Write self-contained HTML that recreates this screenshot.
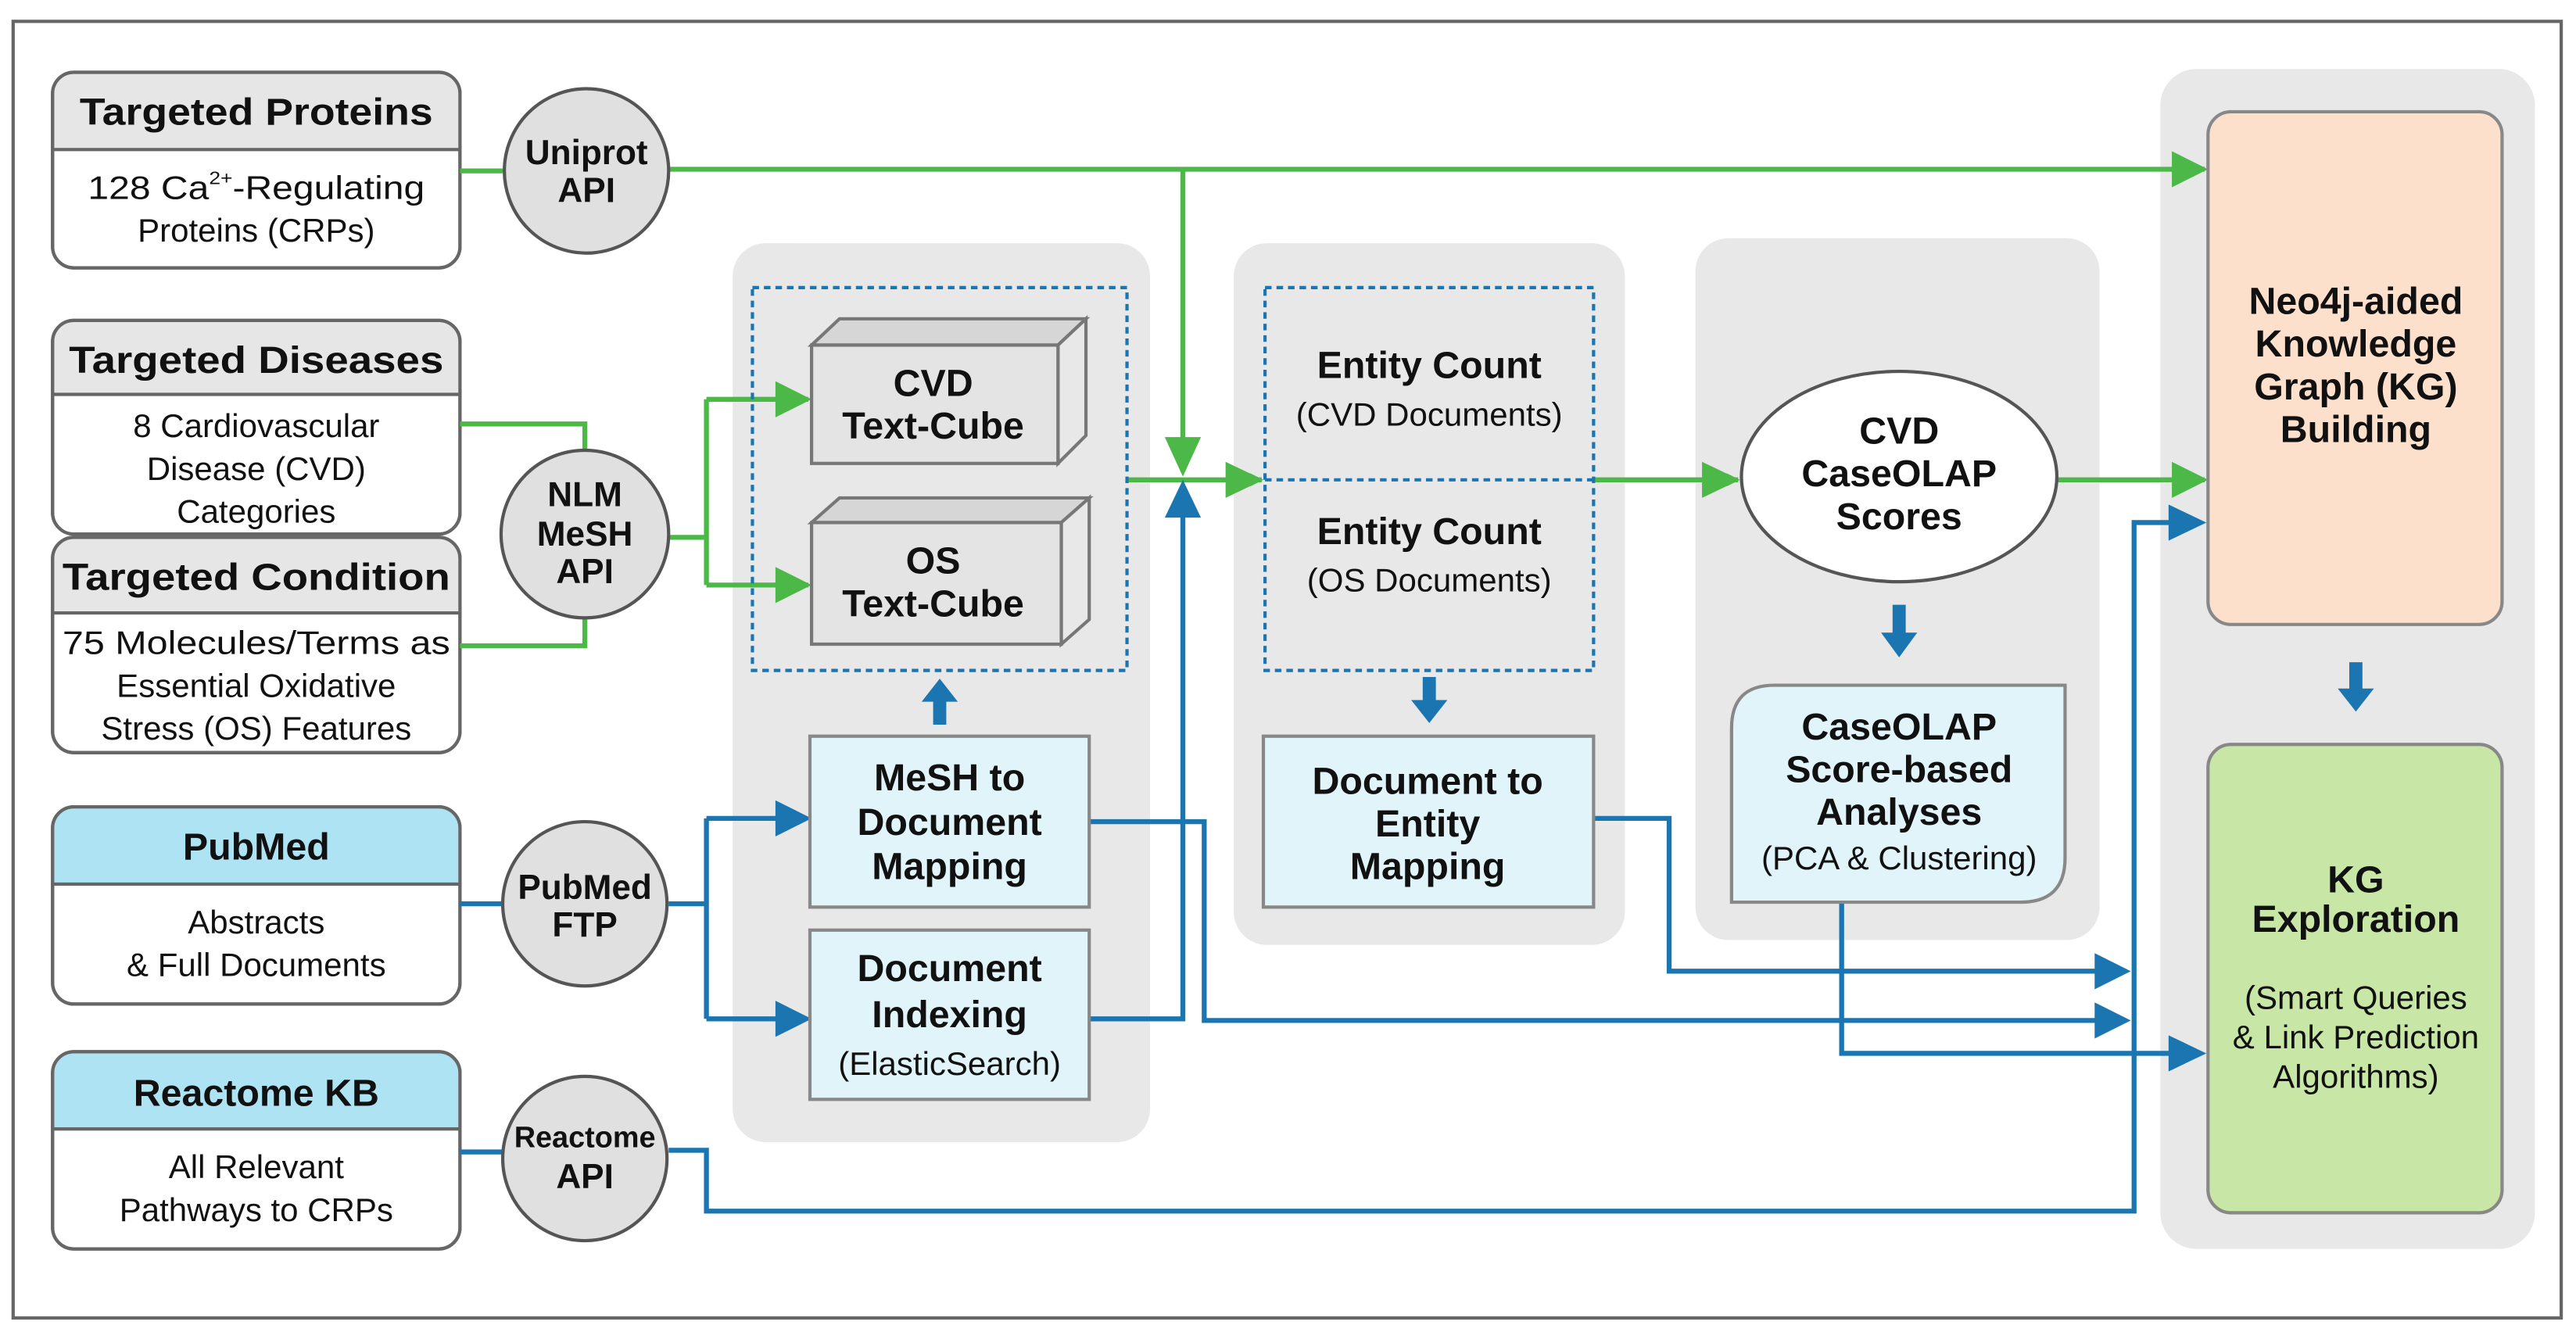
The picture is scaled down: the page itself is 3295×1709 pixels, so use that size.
<!DOCTYPE html>
<html><head><meta charset="utf-8"><style>
html,body{margin:0;padding:0;background:#fff;}
svg{display:block;}
text{font-family:"Liberation Sans",sans-serif;fill:#111;}
.b{font-weight:bold;}
</style></head><body>
<svg width="3295" height="1709" viewBox="0 0 1568 813" preserveAspectRatio="none" xmlns="http://www.w3.org/2000/svg">
<defs>
<marker id="ga" markerWidth="8" markerHeight="8" refX="7" refY="4" orient="auto" markerUnits="userSpaceOnUse" viewBox="0 0 8 8"><path d="M0,0 L8,4 L0,8Z" fill="#4cb848"/></marker>
<marker id="ba" markerWidth="8" markerHeight="8" refX="7" refY="4" orient="auto" markerUnits="userSpaceOnUse" viewBox="0 0 8 8"><path d="M0,0 L8,4 L0,8Z" fill="#1a75b0"/></marker>
</defs>
<rect x="0" y="0" width="1568" height="813" fill="#fff"/>
<rect x="8" y="13" width="1551" height="789" fill="none" stroke="#666" stroke-width="2"/>

<!-- group panels -->
<rect x="446" y="148" width="254" height="547" rx="20" fill="#e8e8e8"/>
<rect x="751" y="148" width="238" height="427" rx="20" fill="#e8e8e8"/>
<rect x="1032" y="145" width="246" height="427" rx="20" fill="#e8e8e8"/>
<rect x="1315" y="42" width="228" height="718" rx="22" fill="#e8e8e8"/>

<!-- left source boxes -->
<g stroke="#666" stroke-width="2">
<rect x="32" y="44" width="248" height="119" rx="13" fill="#fff"/>
<path d="M33,91 V57 Q33,45 45,45 H267 Q279,45 279,57 V91Z" fill="#e6e6e6" stroke="none"/>
<rect x="32" y="44" width="248" height="119" rx="13" fill="none"/>
<line x1="32" y1="91" x2="280" y2="91"/>

<rect x="32" y="195" width="248" height="130" rx="13" fill="#fff"/>
<path d="M33,240 V208 Q33,196 45,196 H267 Q279,196 279,208 V240Z" fill="#e6e6e6" stroke="none"/>
<rect x="32" y="195" width="248" height="130" rx="13" fill="none"/>
<line x1="32" y1="240" x2="280" y2="240"/>

<rect x="32" y="327" width="248" height="131" rx="13" fill="#fff"/>
<path d="M33,373 V340 Q33,328 45,328 H267 Q279,328 279,340 V373Z" fill="#e6e6e6" stroke="none"/>
<rect x="32" y="327" width="248" height="131" rx="13" fill="none"/>
<line x1="32" y1="373" x2="280" y2="373"/>

<rect x="32" y="491" width="248" height="120" rx="13" fill="#fff"/>
<path d="M33,538 V504 Q33,492 45,492 H267 Q279,492 279,504 V538Z" fill="#ade3f2" stroke="none"/>
<rect x="32" y="491" width="248" height="120" rx="13" fill="none"/>
<line x1="32" y1="538" x2="280" y2="538"/>

<rect x="32" y="640" width="248" height="120" rx="13" fill="#fff"/>
<path d="M33,687 V653 Q33,641 45,641 H267 Q279,641 279,653 V687Z" fill="#ade3f2" stroke="none"/>
<rect x="32" y="640" width="248" height="120" rx="13" fill="none"/>
<line x1="32" y1="687" x2="280" y2="687"/>
</g>
<g class="b" font-size="23" text-anchor="middle">
<text x="156" y="76" class="b" textLength="215" lengthAdjust="spacingAndGlyphs">Targeted Proteins</text>
<text x="156" y="227" class="b" textLength="228" lengthAdjust="spacingAndGlyphs">Targeted Diseases</text>
<text x="156" y="359" class="b" textLength="236" lengthAdjust="spacingAndGlyphs">Targeted Condition</text>
<text x="156" y="523" class="b">PubMed</text>
<text x="156" y="673" class="b">Reactome KB</text>
</g>
<g font-size="20" text-anchor="middle">
<text x="156" y="121" textLength="205" lengthAdjust="spacingAndGlyphs">128 Ca<tspan font-size="11" dy="-9">2+</tspan><tspan dy="9">-Regulating</tspan></text>
<text x="156" y="147">Proteins (CRPs)</text>
<text x="156" y="266">8 Cardiovascular</text>
<text x="156" y="292">Disease (CVD)</text>
<text x="156" y="318">Categories</text>
<text x="156" y="398" textLength="236" lengthAdjust="spacingAndGlyphs">75 Molecules/Terms as</text>
<text x="156" y="424">Essential Oxidative</text>
<text x="156" y="450">Stress (OS) Features</text>
<text x="156" y="568">Abstracts</text>
<text x="156" y="594">&amp; Full Documents</text>
<text x="156" y="717">All Relevant</text>
<text x="156" y="743">Pathways to CRPs</text>
</g>

<!-- green connectors -->
<g stroke="#4cb848" stroke-width="3" fill="none">
<line x1="280" y1="104" x2="306" y2="104"/>
<line x1="407" y1="103" x2="1342" y2="103" marker-end="url(#ga)"/>
<polyline points="720,103 720,287" marker-end="url(#ga)"/>
<polyline points="280,258 356,258 356,274"/>
<polyline points="280,393 356,393 356,376"/>
<polyline points="407,327 430,327"/>
<polyline points="430,243 430,356"/>
<line x1="430" y1="243" x2="492" y2="243" marker-end="url(#ga)"/>
<line x1="430" y1="356" x2="492" y2="356" marker-end="url(#ga)"/>
<line x1="686" y1="292" x2="768" y2="292" marker-end="url(#ga)"/>
<line x1="970" y1="292" x2="1058" y2="292" marker-end="url(#ga)"/>
<line x1="1252" y1="292" x2="1342" y2="292" marker-end="url(#ga)"/>
</g>
<!-- bigger green heads -->
<g fill="#4cb848">
<path d="M1322,92 L1344,103 L1322,114Z"/>
<path d="M709,266 L720,290 L731,266Z"/>
<path d="M472,232 L494,243 L472,254Z"/>
<path d="M472,345 L494,356 L472,367Z"/>
<path d="M746,281 L769,292 L746,303Z"/>
<path d="M1036,281 L1059,292 L1036,303Z"/>
<path d="M1322,281 L1344,292 L1322,303Z"/>
</g>

<!-- blue connectors -->
<g stroke="#1a75b0" stroke-width="3" fill="none">
<line x1="280" y1="550" x2="306" y2="550"/>
<polyline points="407,550 430,550"/>
<polyline points="430,498 430,620"/>
<line x1="430" y1="498" x2="480" y2="498"/>
<line x1="430" y1="620" x2="480" y2="620"/>
<polyline points="663,620 720,620 720,312"/>
<polyline points="663,500 733,500 733,621 1280,621"/>
<polyline points="970,498 1016,498 1016,591 1280,591"/>
<polyline points="1121,549 1121,641 1325,641"/>
<polyline points="280,701 306,701"/>
<polyline points="407,700 430,700 430,737 1299,737 1299,318 1325,318"/>
</g>
<g fill="#1a75b0">
<path d="M472,487 L494,498 L472,509Z"/>
<path d="M472,609 L494,620 L472,631Z"/>
<path d="M709,315 L720,292 L731,315Z"/>
<path d="M1275,580 L1297,591 L1275,602Z"/>
<path d="M1275,610 L1297,621 L1275,632Z"/>
<path d="M1320,630 L1343,641 L1320,652Z"/>
<path d="M1320,307 L1343,318 L1320,329Z"/>
<!-- block arrows -->
<path d="M568,441 V427 H561 L572,413 L583,427 H576 V441Z"/>
<path d="M866,412 V426 H859 L870,440 L881,426 H874 V412Z"/>
<path d="M1152,368 V385 H1145 L1156,400 L1167,385 H1160 V368Z"/>
<path d="M1430,403 V419 H1423 L1434,433 L1445,419 H1438 V403Z"/>
</g>

<!-- API ellipses -->
<g fill="#e0e0e0" stroke="#555" stroke-width="2">
<ellipse cx="357" cy="104" rx="50" ry="50"/>
<ellipse cx="356" cy="325" rx="51" ry="51"/>
<ellipse cx="356" cy="550" rx="50" ry="50"/>
<ellipse cx="356" cy="705" rx="50" ry="50"/>
</g>
<g class="b" font-size="21" text-anchor="middle">
<text x="357" y="100" class="b">Uniprot</text>
<text x="357" y="123" class="b">API</text>
<text x="356" y="308" class="b">NLM</text>
<text x="356" y="332" class="b">MeSH</text>
<text x="356" y="355" class="b">API</text>
<text x="356" y="547" class="b">PubMed</text>
<text x="356" y="570" class="b">FTP</text>
<text x="356" y="698" class="b" font-size="18">Reactome</text>
<text x="356" y="723" class="b">API</text>
</g>

<!-- dotted boxes -->
<rect x="458" y="175" width="228" height="233" fill="none" stroke="#1a75b0" stroke-width="2" stroke-dasharray="4,3"/>
<rect x="770" y="175" width="200" height="233" fill="none" stroke="#1a75b0" stroke-width="2" stroke-dasharray="4,3"/>
<line x1="770" y1="292" x2="970" y2="292" stroke="#1a75b0" stroke-width="2" stroke-dasharray="4,3"/>

<!-- cubes -->
<g stroke="#777" stroke-width="2" fill="#e4e4e4">
<path d="M494,210 L511,194 L661,194 L644,210Z" fill="#d6d6d6"/>
<path d="M644,210 L661,194 L661,265 L644,282Z" fill="#e8e8e8"/>
<rect x="494" y="210" width="150" height="72"/>
<path d="M494,318 L511,303 L663,303 L646,318Z" fill="#d6d6d6"/>
<path d="M646,318 L663,303 L663,377 L646,392Z" fill="#e8e8e8"/>
<rect x="494" y="318" width="152" height="74"/>
</g>
<g class="b" font-size="23" text-anchor="middle">
<text x="568" y="241" class="b">CVD</text>
<text x="568" y="267" class="b">Text-Cube</text>
<text x="568" y="349" class="b">OS</text>
<text x="568" y="375" class="b">Text-Cube</text>
</g>

<!-- light blue boxes -->
<g fill="#e0f4fa" stroke="#888" stroke-width="2">
<rect x="493" y="448" width="170" height="104"/>
<rect x="493" y="566" width="170" height="103"/>
<rect x="769" y="448" width="201" height="104"/>
<path d="M1080,417 H1257 V522 Q1257,549 1230,549 H1054 V443 Q1054,417 1080,417Z"/>
</g>
<g class="b" font-size="23" text-anchor="middle">
<text x="578" y="481" class="b">MeSH to</text>
<text x="578" y="508" class="b">Document</text>
<text x="578" y="535" class="b">Mapping</text>
<text x="578" y="597" class="b">Document</text>
<text x="578" y="625" class="b">Indexing</text>
<text x="869" y="483" class="b">Document to</text>
<text x="869" y="509" class="b">Entity</text>
<text x="869" y="535" class="b">Mapping</text>
<text x="1156" y="450" class="b">CaseOLAP</text>
<text x="1156" y="476" class="b">Score-based</text>
<text x="1156" y="502" class="b">Analyses</text>
<text x="870" y="230" class="b">Entity Count</text>
<text x="870" y="331" class="b">Entity Count</text>
</g>
<g font-size="20" text-anchor="middle">
<text x="578" y="654">(ElasticSearch)</text>
<text x="1156" y="529">(PCA &amp; Clustering)</text>
<text x="870" y="259">(CVD Documents)</text>
<text x="870" y="360">(OS Documents)</text>
</g>

<!-- CaseOLAP ellipse -->
<ellipse cx="1156" cy="290" rx="96" ry="64" fill="#fff" stroke="#555" stroke-width="2"/>
<g class="b" font-size="23" text-anchor="middle">
<text x="1156" y="270" class="b">CVD</text>
<text x="1156" y="296" class="b">CaseOLAP</text>
<text x="1156" y="322" class="b">Scores</text>
</g>

<!-- right boxes -->
<rect x="1344" y="68" width="179" height="312" rx="14" fill="#fde0cc" stroke="#888" stroke-width="2"/>
<rect x="1344" y="453" width="179" height="285" rx="14" fill="#c8e6a6" stroke="#888" stroke-width="2"/>
<g class="b" font-size="23" text-anchor="middle">
<text x="1434" y="191" class="b">Neo4j-aided</text>
<text x="1434" y="217" class="b">Knowledge</text>
<text x="1434" y="243" class="b">Graph (KG)</text>
<text x="1434" y="269" class="b">Building</text>
<text x="1434" y="543" class="b">KG</text>
<text x="1434" y="567" class="b">Exploration</text>
</g>
<g font-size="20" text-anchor="middle">
<text x="1434" y="614">(Smart Queries</text>
<text x="1434" y="638">&amp; Link Prediction</text>
<text x="1434" y="662">Algorithms)</text>
</g>
</svg>
</body></html>
